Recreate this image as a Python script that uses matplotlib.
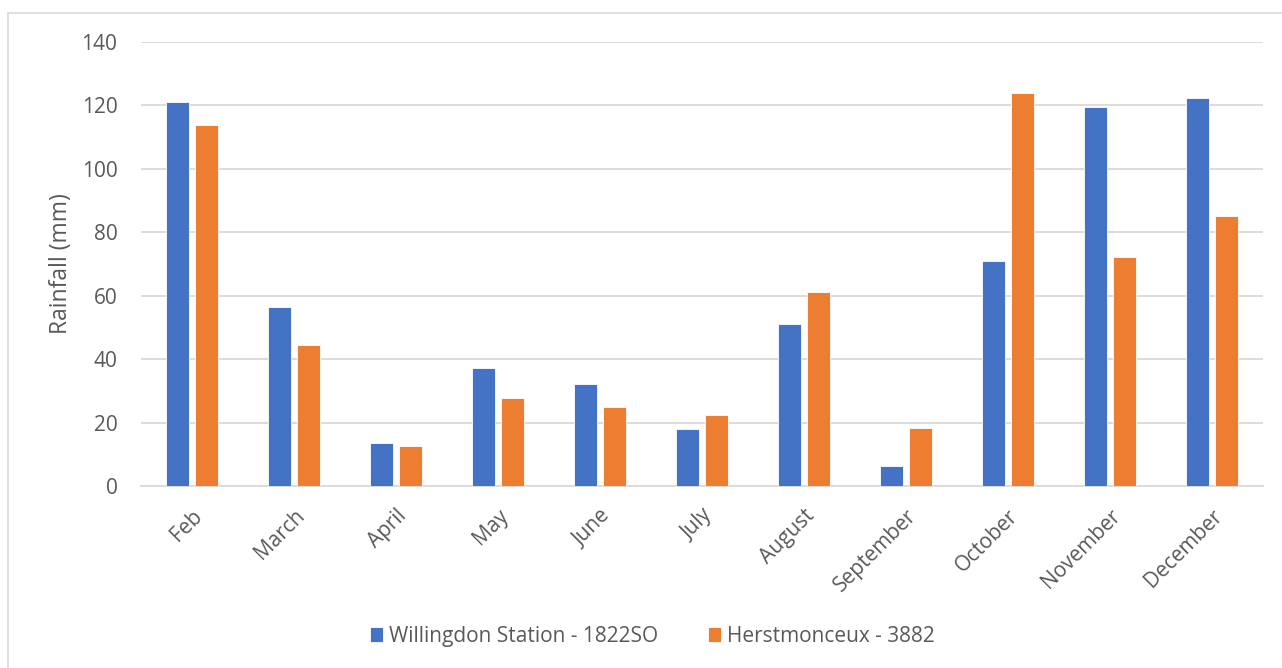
import matplotlib.pyplot as plt
import matplotlib.patches as mpatches
import numpy as np

months = ["Feb", "March", "April", "May", "June", "July", "August",
          "September", "October", "November", "December"]
willingdon = [121.0, 56.3, 13.5, 37.3, 32.2, 18.0, 51.0, 6.4, 71.0, 119.5, 122.3]
herstmonceux = [114.0, 44.5, 12.6, 27.8, 25.0, 22.4, 61.3, 18.3, 124.0, 72.2, 85.0]

blue = "#4472C4"
orange = "#ED7D31"
text_color = "#595959"
grid_color = "#D9D9D9"

plt.rcParams["font.family"] = ["Open Sans", "DejaVu Sans"]

fig = plt.figure(figsize=(12.82, 6.68), dpi=100)
ax = fig.add_axes([0.110, 0.2725, 0.875, 0.6645])

x = np.arange(len(months))
width = 0.225
offset = 0.142
ax.bar(x - offset, willingdon, width, color=blue, edgecolor="white", linewidth=0.6,
       label="Willingdon Station - 1822SO", zorder=3)
ax.bar(x + offset, herstmonceux, width, color=orange, edgecolor="white", linewidth=0.6,
       label="Herstmonceux - 3882", zorder=3)

ax.set_xlim(-0.5, len(months) - 0.5)
ax.set_ylim(0, 140)
ax.set_yticks(range(0, 141, 20))
ax.yaxis.grid(True, color=grid_color, linewidth=1.3, zorder=0)
ax.set_axisbelow(True)
for s in ["top", "right", "left"]:
    ax.spines[s].set_visible(False)
ax.spines["bottom"].set_color(grid_color)
ax.spines["bottom"].set_linewidth(1.3)
ax.tick_params(axis="both", length=0, labelsize=15, colors=text_color)
ax.tick_params(axis="y", pad=17)
ax.set_xticks(x)
ax.set_xticklabels(months, rotation=45, ha="right", va="top", rotation_mode="anchor")
ax.tick_params(axis="x", pad=14)
ax.set_ylabel("Rainfall (mm)", fontsize=16.5, color=text_color, labelpad=6)

leg = fig.legend(loc="center", bbox_to_anchor=(0.509, 0.047), ncol=2, frameon=False,
                 fontsize=15, handlelength=0.6, handleheight=0.75, handletextpad=0.3,
                 columnspacing=2.4)
for t in leg.get_texts():
    t.set_color(text_color)

fig.patches.append(mpatches.Rectangle((8 / 1282, -0.01), 1.02, 1 - 13 / 668 + 0.01,
                                      transform=fig.transFigure, fill=False,
                                      edgecolor="#D9D9D9", linewidth=1.2))

fig.savefig("out.png", dpi=100)
